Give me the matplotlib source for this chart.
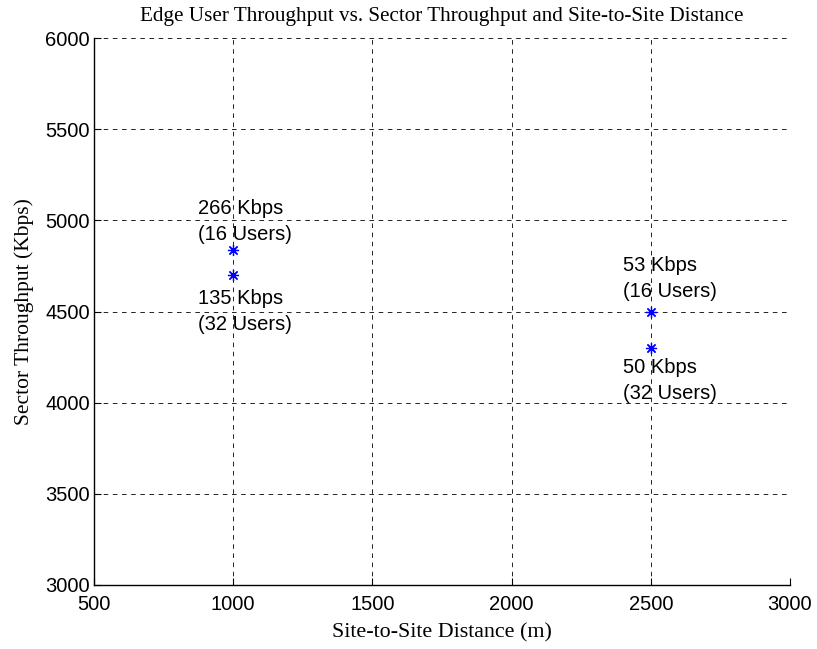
import matplotlib
matplotlib.use("Agg")
import matplotlib.pyplot as plt

# Data
distance = [1000, 1000, 2500, 2500]
sector_tp = [4840, 4700, 4500, 4300]
labels = ["266 Kbps\n(16 Users)", "135 Kbps\n(32 Users)", "53 Kbps\n(16 Users)", "50 Kbps\n(32 Users)"]
label_x = [875, 875, 2400, 2400]
label_y = [4995, 4500, 4680, 4120]
xticks = [500, 1000, 1500, 2000, 2500, 3000]
yticks = [3000, 3500, 4000, 4500, 5000, 5500, 6000]

fig = plt.figure(figsize=(8.17, 6.49), dpi=100)
ax = fig.add_axes([94/817, 1 - 585/649, (790 - 94)/817, (585 - 38)/649])

ax.plot(distance, sector_tp, linestyle='none', marker=(8, 2, 0), markersize=8,
        color='blue', markeredgewidth=0.9)

for x, y, s in zip(label_x, label_y, labels):
    ax.text(x, y, s, ha='left', va='center', fontsize=14.5, family='Liberation Sans',
            linespacing=1.45)

ax.set_xlim(500, 3000)
ax.set_ylim(3000, 6000)
ax.set_xticks(xticks)
ax.set_yticks(yticks)
ax.grid(True, color='black', linestyle=(0, (5.5, 5.5)), linewidth=0.6)
ax.set_axisbelow(True)
for side in ['top', 'right']:
    ax.spines[side].set_visible(False)
for side in ['left', 'bottom']:
    ax.spines[side].set_linewidth(1.0)
ax.tick_params(direction='in', length=5, width=0.8, labelsize=14.5)
ax.tick_params(axis='x', pad=7)
ax.tick_params(axis='y', pad=3)
for lab in ax.get_xticklabels() + ax.get_yticklabels():
    lab.set_family('Liberation Sans')

ax.set_title("Edge User Throughput vs. Sector Throughput and Site-to-Site Distance",
             family='Liberation Serif', fontsize=15.2, pad=12)
ax.set_xlabel("Site-to-Site Distance (m)", family='Liberation Serif', fontsize=15.8, labelpad=7)
ax.set_ylabel("Sector Throughput (Kbps)", family='Liberation Serif', fontsize=15.5, labelpad=8)

fig.savefig("out.png", dpi=100)
